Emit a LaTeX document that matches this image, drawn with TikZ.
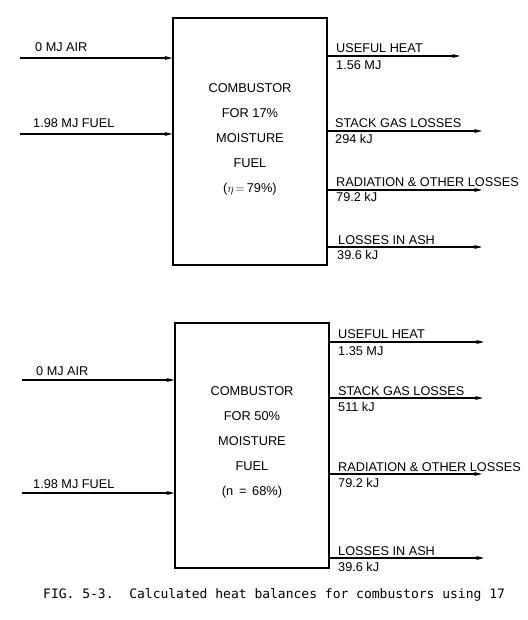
\documentclass[tikz,border=0pt]{standalone}
\usepackage{fontspec}
\setmainfont{Liberation Sans}
\newfontfamily\capfont{DejaVu Sans Mono}
\usetikzlibrary{arrows.meta}
\tikzset{
  flow/.style={line width=1.1pt,-{Stealth[length=8pt,width=4pt]}},
  boxstyle/.style={draw,line width=1.1pt,minimum width=154pt,inner sep=0pt},
  lbl/.style={anchor=base west,inner sep=0pt,font=\fontsize{12.7}{14}\selectfont},
  ctr/.style={anchor=base,inner sep=0pt,font=\fontsize{12.8}{14}\selectfont},
}
\begin{document}
\begin{tikzpicture}[x=1pt,y=-1pt]
\useasboundingbox (0,0) rectangle (527,620);
% ---------- top combustor ----------
\node[boxstyle,minimum height=247pt] (boxA) at (250,141.5) {};
\node[ctr] (a1) at (250,93) {COMBUSTOR};
\node[ctr] (a2) at (250,118) {FOR 17\%};
\node[ctr] (a3) at (250,143) {MOISTURE};
\node[ctr] (a4) at (250,168) {FUEL};
\node[ctr] (a5) at (250,193) {(\(\eta\,{=}\,\)79\%)};
% inputs
\coordinate (aAir) at (20,58);
\coordinate (aFuel) at (20,134);
\draw[flow] (aAir) -- (aAir -| boxA.west);
\draw[flow] (aFuel) -- (aFuel -| boxA.west);
\node[lbl] (aAirL) at (35,52) {0 MJ AIR};
\node[lbl] (aFuelL) at (33,128) {1.98 MJ FUEL};
% outputs
\coordinate (aO1) at (460,56);
\coordinate (aO2) at (482,131);
\coordinate (aO3) at (482,190);
\coordinate (aO4) at (482,247);
\draw[flow] (aO1 -| boxA.east) -- (aO1);
\draw[flow] (aO2 -| boxA.east) -- (aO2);
\draw[flow] (aO3 -| boxA.east) -- (aO3);
\draw[flow] (aO4 -| boxA.east) -- (aO4);
\node[lbl] (aO1L) at (336,53) {USEFUL HEAT};
\node[lbl] (aO1V) at (336,70) {1.56 MJ};
\node[lbl] (aO2L) at (335,128) {STACK GAS LOSSES};
\node[lbl] (aO2V) at (335,144) {294 kJ};
\node[lbl] (aO3L) at (336,187) {RADIATION \& OTHER LOSSES};
\node[lbl] (aO3V) at (336,202) {79.2 kJ};
\node[lbl] (aO4L) at (338,244) {LOSSES IN ASH};
\node[lbl] (aO4V) at (337,259) {39.6 kJ};
% ---------- bottom combustor ----------
\node[boxstyle,minimum height=245pt] (boxB) at (252,445.5) {};
\node[ctr] (b1) at (252,395) {COMBUSTOR};
\node[ctr] (b2) at (252,420) {FOR 50\%};
\node[ctr] (b3) at (252,445) {MOISTURE};
\node[ctr] (b4) at (252,470) {FUEL};
\node[ctr] (b5) at (252,495) {(n \,=\, 68\%)};
% inputs
\coordinate (bAir) at (22,380);
\coordinate (bFuel) at (22,493);
\draw[flow] (bAir) -- (bAir -| boxB.west);
\draw[flow] (bFuel) -- (bFuel -| boxB.west);
\node[lbl] (bAirL) at (36,375) {0 MJ AIR};
\node[lbl] (bFuelL) at (33,488) {1.98 MJ FUEL};
% outputs
\coordinate (bO1) at (484,342);
\coordinate (bO2) at (483,398);
\coordinate (bO3) at (482,474);
\coordinate (bO4) at (484,558);
\draw[flow] (bO1 -| boxB.east) -- (bO1);
\draw[flow] (bO2 -| boxB.east) -- (bO2);
\draw[flow] (bO3 -| boxB.east) -- (bO3);
\draw[flow] (bO4 -| boxB.east) -- (bO4);
\node[lbl] (bO1L) at (338,338) {USEFUL HEAT};
\node[lbl] (bO1V) at (338,355) {1.35 MJ};
\node[lbl] (bO2L) at (338,395) {STACK GAS LOSSES};
\node[lbl] (bO2V) at (338,411) {511 kJ};
\node[lbl] (bO3L) at (338,471) {RADIATION \& OTHER LOSSES};
\node[lbl] (bO3V) at (338,487) {79.2 kJ};
\node[lbl] (bO4L) at (338,555) {LOSSES IN ASH};
\node[lbl] (bO4V) at (338,571) {39.6 kJ};
% ---------- caption ----------
\node[anchor=base west,inner sep=0pt,font=\capfont\fontsize{13}{15}\selectfont] (cap) at (43,598) {FIG.~5-3.~~Calculated heat balances for combustors using 17};
\end{tikzpicture}
\end{document}
